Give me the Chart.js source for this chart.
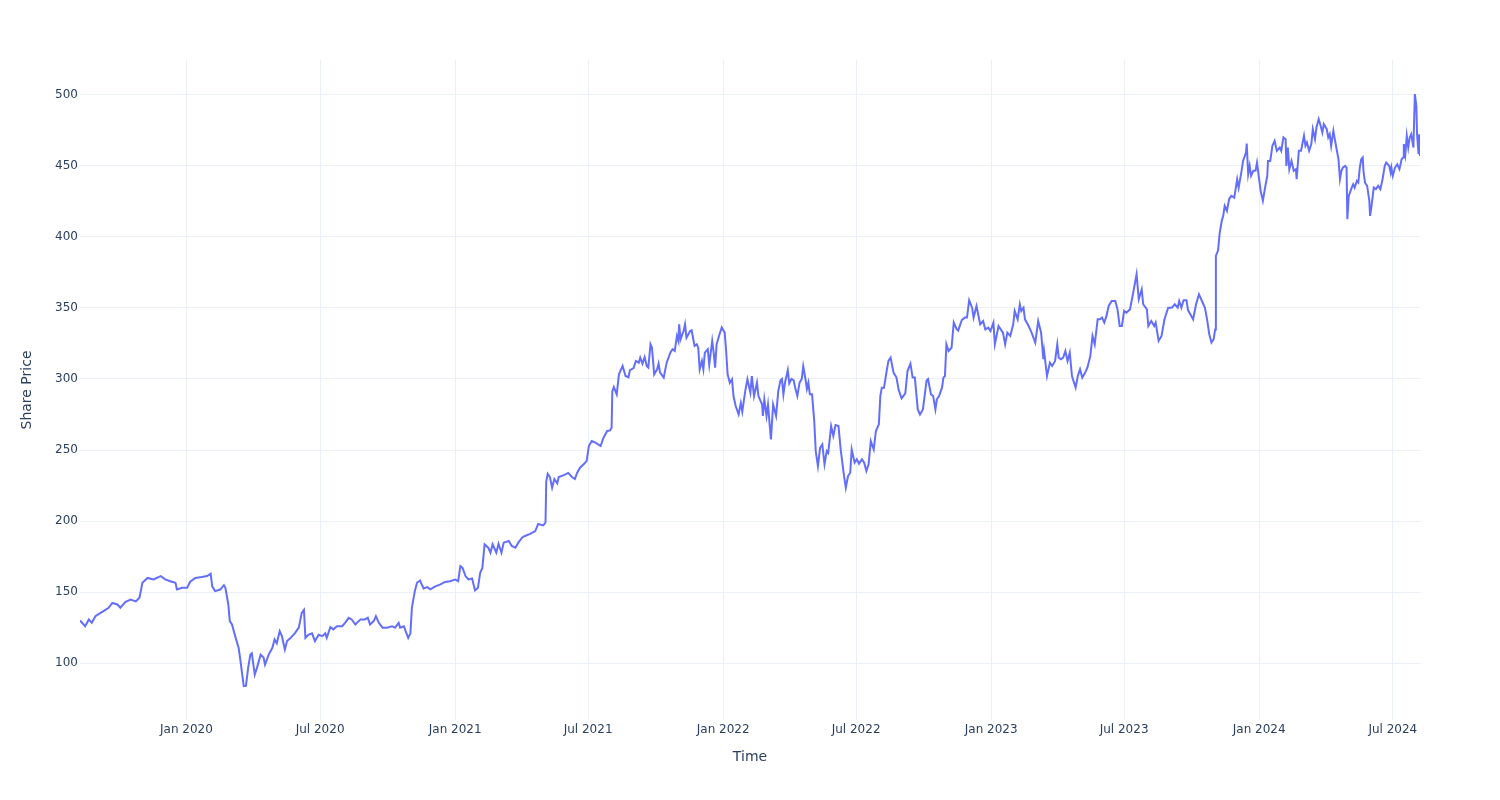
<!DOCTYPE html>
<html>
<head>
<meta charset="utf-8">
<script src="https://cdn.jsdelivr.net/npm/chart.js@4/dist/chart.umd.min.js"></script>
<style>
  html, body { margin: 0; padding: 0; background: #ffffff; }
  #wrap { width: 1500px; height: 800px; }
</style>
</head>
<body>
<div id="wrap"><canvas id="c" width="1500" height="800"></canvas></div>
<script>
const dates = [
"2019-08-09","2019-08-16","2019-08-21","2019-08-25","2019-08-30","2019-09-06","2019-09-10","2019-09-17","2019-09-22","2019-09-29",
"2019-10-03","2019-10-10","2019-10-17","2019-10-24","2019-10-29","2019-11-02","2019-11-09","2019-11-17","2019-11-27","2019-12-03",
"2019-12-10","2019-12-17","2019-12-19","2019-12-26","2020-01-02","2020-01-06","2020-01-13","2020-01-22","2020-01-29","2020-02-03",
"2020-02-05","2020-02-09","2020-02-16","2020-02-21","2020-02-23","2020-02-27","2020-02-29","2020-03-03","2020-03-08","2020-03-12",
"2020-03-14","2020-03-19","2020-03-22","2020-03-25","2020-03-28","2020-03-30","2020-04-03","2020-04-06","2020-04-11","2020-04-15",
"2020-04-17","2020-04-22","2020-04-27","2020-04-30","2020-05-03","2020-05-07","2020-05-10","2020-05-14","2020-05-17","2020-05-22",
"2020-05-28","2020-06-02","2020-06-06","2020-06-09","2020-06-11","2020-06-15","2020-06-20","2020-06-24","2020-06-29","2020-07-04",
"2020-07-08","2020-07-10","2020-07-15","2020-07-19","2020-07-24","2020-07-31","2020-08-04","2020-08-09","2020-08-13","2020-08-18",
"2020-08-25","2020-08-31","2020-09-04","2020-09-07","2020-09-12","2020-09-15","2020-09-19","2020-09-24","2020-09-30","2020-10-07",
"2020-10-11","2020-10-16","2020-10-18","2020-10-23","2020-10-29","2020-11-01","2020-11-03","2020-11-07","2020-11-10","2020-11-14",
"2020-11-19","2020-11-24","2020-11-28","2020-12-05","2020-12-12","2020-12-18","2020-12-25","2021-01-01","2021-01-05","2021-01-08",
"2021-01-11","2021-01-15","2021-01-19","2021-01-24","2021-01-28","2021-02-01","2021-02-04","2021-02-07","2021-02-10","2021-02-15",
"2021-02-18","2021-02-21","2021-02-26","2021-03-01","2021-03-05","2021-03-08","2021-03-15","2021-03-19","2021-03-24","2021-03-28",
"2021-04-02","2021-04-06","2021-04-13","2021-04-20","2021-04-24","2021-05-01","2021-05-04","2021-05-05","2021-05-07","2021-05-10",
"2021-05-13","2021-05-16","2021-05-20","2021-05-22","2021-05-29","2021-06-04","2021-06-09","2021-06-13","2021-06-16","2021-06-20",
"2021-06-25","2021-06-29","2021-07-02","2021-07-06","2021-07-11","2021-07-18","2021-07-22","2021-07-27","2021-07-31","2021-08-02",
"2021-08-03","2021-08-05","2021-08-09","2021-08-12","2021-08-17","2021-08-21","2021-08-25","2021-08-27","2021-09-01","2021-09-04",
"2021-09-08","2021-09-10","2021-09-13","2021-09-16","2021-09-19","2021-09-21","2021-09-24","2021-09-26","2021-09-29","2021-10-03",
"2021-10-05","2021-10-07","2021-10-12","2021-10-16","2021-10-21","2021-10-24","2021-10-27","2021-10-30","2021-11-01","2021-11-02",
"2021-11-04","2021-11-08","2021-11-10","2021-11-12","2021-11-17","2021-11-19","2021-11-23","2021-11-26","2021-11-28","2021-11-30",
"2021-12-03","2021-12-05","2021-12-07","2021-12-11","2021-12-13","2021-12-17","2021-12-19","2021-12-21","2021-12-23","2021-12-27",
"2021-12-30","2022-01-03","2022-01-05","2022-01-07","2022-01-10","2022-01-13","2022-01-15","2022-01-18","2022-01-22","2022-01-25",
"2022-01-27","2022-01-31","2022-02-03","2022-02-07","2022-02-09","2022-02-12","2022-02-16","2022-02-18","2022-02-23","2022-02-24",
"2022-02-26","2022-03-01","2022-03-03","2022-03-07","2022-03-10","2022-03-14","2022-03-17","2022-03-20","2022-03-22","2022-03-24",
"2022-03-26","2022-03-30","2022-04-01","2022-04-04","2022-04-07","2022-04-09","2022-04-12","2022-04-15","2022-04-18","2022-04-20",
"2022-04-23","2022-04-25","2022-04-27","2022-04-29","2022-05-02","2022-05-05","2022-05-07","2022-05-10","2022-05-13","2022-05-16",
"2022-05-19","2022-05-22","2022-05-24","2022-05-28","2022-05-31","2022-06-03","2022-06-07","2022-06-10","2022-06-14","2022-06-17",
"2022-06-20","2022-06-23","2022-06-25","2022-06-29","2022-07-02","2022-07-05","2022-07-09","2022-07-12","2022-07-15","2022-07-18",
"2022-07-21","2022-07-25","2022-07-28","2022-08-01","2022-08-03","2022-08-05","2022-08-08","2022-08-12","2022-08-14","2022-08-17",
"2022-08-21","2022-08-25","2022-08-28","2022-09-01","2022-09-06","2022-09-09","2022-09-13","2022-09-16","2022-09-19","2022-09-23",
"2022-09-26","2022-09-30","2022-10-05","2022-10-07","2022-10-11","2022-10-14","2022-10-17","2022-10-19","2022-10-22","2022-10-26",
"2022-10-28","2022-10-30","2022-11-01","2022-11-04","2022-11-08","2022-11-11","2022-11-15","2022-11-17","2022-11-22","2022-11-26",
"2022-11-29","2022-12-02","2022-12-06","2022-12-08","2022-12-12","2022-12-17","2022-12-21","2022-12-24","2022-12-28","2022-12-31",
"2023-01-04","2023-01-06","2023-01-11","2023-01-14","2023-01-17","2023-01-20","2023-01-23","2023-01-27","2023-01-31","2023-02-02",
"2023-02-06","2023-02-09","2023-02-11","2023-02-14","2023-02-16","2023-02-21","2023-02-25","2023-03-02","2023-03-06","2023-03-10",
"2023-03-13","2023-03-14","2023-03-18","2023-03-22","2023-03-25","2023-03-29","2023-04-01","2023-04-03","2023-04-06","2023-04-09",
"2023-04-12","2023-04-15","2023-04-18","2023-04-21","2023-04-26","2023-04-29","2023-05-02","2023-05-05","2023-05-09","2023-05-12",
"2023-05-16","2023-05-19","2023-05-22","2023-05-26","2023-05-29","2023-06-01","2023-06-04","2023-06-07","2023-06-10","2023-06-14",
"2023-06-19","2023-06-22","2023-06-25","2023-06-28","2023-07-01","2023-07-04","2023-07-09","2023-07-13","2023-07-18","2023-07-21",
"2023-07-25","2023-07-27","2023-08-01","2023-08-03","2023-08-07","2023-08-11","2023-08-13","2023-08-17","2023-08-21","2023-08-25",
"2023-08-30","2023-09-04","2023-09-08","2023-09-12","2023-09-14","2023-09-17","2023-09-20","2023-09-24","2023-09-26","2023-09-29",
"2023-10-03","2023-10-07","2023-10-11","2023-10-15","2023-10-19","2023-10-22","2023-10-25","2023-10-28","2023-10-31","2023-11-02",
"2023-11-03","2023-11-06","2023-11-08","2023-11-11","2023-11-13","2023-11-15","2023-11-18","2023-11-21","2023-11-24","2023-11-28",
"2023-12-02","2023-12-04","2023-12-08","2023-12-10","2023-12-14","2023-12-15","2023-12-17","2023-12-19","2023-12-21","2023-12-24",
"2023-12-27","2023-12-29","2023-12-31","2024-01-03","2024-01-06","2024-01-09","2024-01-12","2024-01-13","2024-01-16","2024-01-19",
"2024-01-22","2024-01-25","2024-01-29","2024-01-31","2024-02-03","2024-02-06","2024-02-07","2024-02-09","2024-02-11","2024-02-14",
"2024-02-17","2024-02-20","2024-02-21","2024-02-24","2024-02-27","2024-03-02","2024-03-04","2024-03-06","2024-03-09","2024-03-12",
"2024-03-14","2024-03-17","2024-03-19","2024-03-22","2024-03-24","2024-03-27","2024-03-29","2024-04-02","2024-04-04","2024-04-06",
"2024-04-08","2024-04-11","2024-04-13","2024-04-15","2024-04-18","2024-04-20","2024-04-22","2024-04-24","2024-04-27","2024-04-29",
"2024-04-30","2024-05-02","2024-05-06","2024-05-08","2024-05-10","2024-05-13","2024-05-15","2024-05-17","2024-05-19","2024-05-21",
"2024-05-22","2024-05-24","2024-05-27","2024-05-30","2024-05-31","2024-06-02","2024-06-05","2024-06-08","2024-06-11","2024-06-14",
"2024-06-17","2024-06-20","2024-06-22","2024-06-26","2024-06-28","2024-06-29","2024-07-01","2024-07-04","2024-07-07","2024-07-10",
"2024-07-13","2024-07-15","2024-07-16","2024-07-18","2024-07-20","2024-07-22","2024-07-24","2024-07-26","2024-07-29","2024-07-31",
"2024-08-02","2024-08-03","2024-08-05","2024-08-06","2024-08-07"
];
const prices = [
130,126,130.8,128.4,133,135.4,136.6,139,142.4,141.3,
139,143.2,144.8,143.5,146,156.6,160,158.9,161.3,159,
157.7,156.6,151.9,153,153,157.3,160,160.6,161.3,162.9,
154.2,150.7,151.8,154.9,153,141.3,129.6,127.3,117.8,110.8,
103.8,83.8,84,96.7,106,107,92,96.7,106,104,
99,106,110.8,116.7,114,122.5,119,109.7,115.6,117.8,
121.3,125,135.4,137.5,117.8,120,121,115.5,120,119,
121,117.8,125.4,123.8,126,126,128.4,131.9,130.8,127.2,
130.8,130.8,132,127.2,129.6,133,128.4,125,125,126,
125,128.4,125,126,117.8,121,139,150.7,156.6,158.2,
152.6,153.5,152,154,155.4,157.2,157.7,158.9,157.7,168.3,
167,161.3,158.9,159.6,151.2,153,163.6,167,183.6,181.3,
177.7,183.6,177.7,184,177.7,184.8,186,182.5,181.3,184.8,
188.3,189.5,191,193,198,197,199,228,233.3,231,
223.5,229.6,226.6,231,232.3,233.9,231,229.6,233.9,237.6,
240,242.2,252.8,256.3,255.2,252.8,258.7,263.4,263.8,265.7,
291.5,294.3,289.2,303.3,309.2,302.1,301.2,306.3,307.7,312.7,
311.5,315,310.8,315.4,309,308,324.4,322,303.3,306.8,
310.8,304.5,301,311.5,318.5,320.9,319.7,330.3,326.8,338.5,
328,333.8,338.5,329,333.8,334.3,323.2,324.4,322,306.8,
312.7,306.8,318.5,320.9,310,326.8,318.5,308,324.4,331.5,
336.2,332.6,319.7,303.3,297.4,299.8,288,281,275.1,283,
277,291.5,299.8,290.4,302,288,297.4,288,282,274,
285.7,274,282,257.5,282,274,291.5,299,300,289.2,
297,306.3,297,300,299,294,288,297.4,300,309,
300,293,297.4,289.2,289.2,270.4,249.3,238.7,251.6,254,
240,249.3,248,266.9,259.9,267.6,266.9,250.5,234,223.5,
231.7,234,250.5,241.1,243.5,240.4,243.5,241.1,235.2,239.9,
256.3,250.5,263.4,268.1,288,293.9,293.9,306.8,312.7,315,
304.5,301,292.2,286.4,289.9,305.6,310.8,301,301,278.6,
275,278.6,299,300,289.2,288,278.6,285.7,288,293.9,
301,302,324.4,319.7,322,339.7,335,334,341.5,343.2,
343.2,355.4,350.2,343.2,351.4,338.5,340.8,334.9,336.1,333.8,
339.7,324.4,337.3,334.9,332.6,324.4,332.6,330.3,338.5,347.9,
342,352.6,347.9,350.2,342,337.3,332.6,325.6,340.8,332.6,
313.9,319.7,302.1,311.5,309.2,312.7,324.4,315,313.9,315,
319.7,312.7,318.5,302.1,293.9,302.1,306.8,301,304.5,308,
316.2,330.3,324.4,342,342,343.2,339.7,344.4,351.4,354.9,
354.9,349,337.3,337.3,347.9,346.7,349,359.6,373.7,356.1,
363.1,352.6,349,337.3,340.8,337.3,339.7,326.8,330.3,342,
350.2,350.2,352.6,350.2,354.9,350.2,355.4,355.4,348.5,345.8,
342,352.6,359.6,354.9,350.2,342,331.5,325.6,328,334.9,
386.6,390.6,401.9,411.3,414.8,421.8,418.3,426.5,428.9,427.7,
440.6,434.7,446.5,453.5,459.4,465.7,444.1,450,443,446.5,
446.5,452.3,444.1,432.4,425.4,434.7,443,453.5,453.5,464.1,
467.6,460.6,462.9,460.6,470,468.8,450,462.9,447.7,453.5,
446.5,447.7,440.6,460.6,460.6,471.2,464.1,466.4,460.6,465.3,
475.8,468.8,477,482.9,479.4,473.5,479.4,475.8,470,472.3,
464.1,474.7,468.8,462.9,454.6,440.6,446.5,448.8,450,448.8,
412.4,428.9,434.7,437.1,434.7,439.4,438.3,448.8,454.6,455.8,
446.5,438.3,435.9,425.4,414.8,421.8,434.7,433.6,435.9,433.6,
440.6,450,452.3,450,445.3,448.8,443,448.8,451.1,447.7,
454.6,455.8,465.3,458.2,471.2,462.9,470,472.3,462.9,500.5,
492.3,472.3,458.2,472.3,457
];
const xTickDates = ["2020-01-01","2020-07-01","2021-01-01","2021-07-01","2022-01-01","2022-07-01","2023-01-01","2023-07-01","2024-01-01","2024-07-01"];
const xTickLabels = ["Jan 2020","Jul 2020","Jan 2021","Jul 2021","Jan 2022","Jul 2022","Jan 2023","Jul 2023","Jan 2024","Jul 2024"];
const yTickValues = [100,150,200,250,300,350,400,450,500];
const yRange = [60, 524.5];

const points = dates.map((d, i) => ({ x: Date.parse(d), y: prices[i] }));
const FONT = "'DejaVu Sans', Verdana, sans-serif";
const TXT = '#2a3f5f';
const GRID = '#EBF0F8';

new Chart(document.getElementById('c'), {
  type: 'line',
  data: {
    datasets: [{
      data: points,
      borderColor: '#636efa',
      borderWidth: 2,
      pointRadius: 0,
      pointHoverRadius: 0,
      tension: 0,
      fill: false
    }]
  },
  options: {
    responsive: false,
    animation: false,
    devicePixelRatio: 1,
    layout: { padding: { top: 60, right: 80, bottom: 0, left: 0 } },
    plugins: { legend: { display: false }, tooltip: { enabled: false } },
    scales: {
      x: {
        type: 'linear',
        min: Date.parse(dates[0]),
        max: Date.parse(dates[dates.length - 1]),
        afterBuildTicks: s => { s.ticks = xTickDates.map(d => ({ value: Date.parse(d) })); },
        afterFit: s => { s.height = 80; },
        grid: { color: GRID, lineWidth: 1, drawTicks: false },
        border: { display: false },
        ticks: {
          autoSkip: false, maxRotation: 0, minRotation: 0, padding: 3,
          color: TXT, font: { family: FONT, size: 12 },
          callback: (v, i) => xTickLabels[i]
        },
        title: { display: true, text: 'Time', color: TXT, font: { family: FONT, size: 14 }, padding: { top: 0, bottom: 34 } }
      },
      y: {
        type: 'linear',
        min: yRange[0],
        max: yRange[1],
        afterBuildTicks: s => { s.ticks = yTickValues.map(v => ({ value: v })); },
        afterFit: s => { s.width = 80; },
        grid: { color: GRID, lineWidth: 1, drawTicks: false },
        border: { display: false },
        ticks: {
          padding: 2, color: TXT, font: { family: FONT, size: 12 },
          callback: v => String(v)
        },
        title: { display: true, text: 'Share Price', color: TXT, font: { family: FONT, size: 14 }, padding: { top: 19, bottom: 0 } }
      }
    }
  }
});
</script>
</body>
</html>
